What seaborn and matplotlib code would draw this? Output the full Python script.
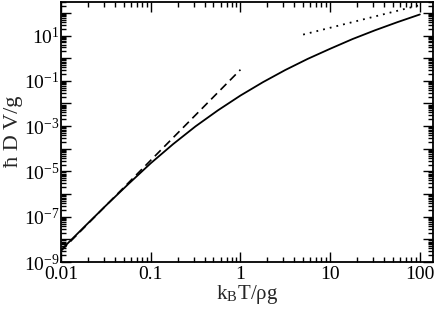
import matplotlib
matplotlib.use("Agg")
import numpy as np
import matplotlib.pyplot as plt
import matplotlib.ticker as mticker
import seaborn as sns

# values (log-log), quarter decade steps
kT = [0.01, 0.0178, 0.0316, 0.0562, 0.1, 0.178, 0.316, 0.562, 1,
      1.78, 3.16, 5.62, 10, 17.8, 31.6, 56.2, 100]
hDV = [3.4e-9, 3.3e-8, 3.1e-7, 2.75e-6, 2.3e-5, 1.62e-4, 9.8e-4, 5.0e-3, 2.24e-2,
       8.7e-2, 0.30, 0.93, 2.6, 7.0, 17.0, 38.9, 85]

# low temperature asymptote (dashed)
low_x = [0.01, 1]
low_y = [3.1e-9, 0.31]

# high temperature asymptote (dotted)
high_x = [5, 100]
high_y = [11, 220]

sns.set_style("ticks")
plt.rcParams["font.family"] = ["Liberation Serif", "DejaVu Serif"]
plt.rcParams["mathtext.fontset"] = "stix"

fig, ax = plt.subplots(figsize=(4.36, 3.09), dpi=100)
fig.subplots_adjust(left=0.14, right=0.993, bottom=0.152, top=0.995)

sns.lineplot(x=kT, y=hDV, color="black", lw=1.3, ax=ax, sort=False)
sns.lineplot(x=low_x, y=low_y, color="black", lw=1.2, ax=ax, sort=False,
             linestyle=(0, (5, 3)))
sns.lineplot(x=high_x, y=high_y, color="black", lw=1.3, ax=ax, sort=False,
             linestyle=(0, (1, 2.8)))

ax.set_xscale("log")
ax.set_yscale("log")
ax.set_xlim(0.01, 140)
ax.set_ylim(1e-9, 10**2.5)

ax.xaxis.set_major_locator(mticker.LogLocator(base=10, numticks=20))
ax.xaxis.set_minor_locator(mticker.LogLocator(base=10, subs=np.arange(2, 10), numticks=20))
ax.xaxis.set_major_formatter(mticker.FuncFormatter(lambda v, p: f"{v:g}"))
ax.xaxis.set_minor_formatter(mticker.NullFormatter())

def ylab(v, p):
    e = int(round(np.log10(v)))
    return f"$\\mathregular{{10^{{{e}}}}}$" if e % 2 else ""

ax.yaxis.set_major_locator(mticker.LogLocator(base=10, numticks=20))
ax.yaxis.set_minor_locator(mticker.LogLocator(base=10, subs=np.arange(2, 10), numticks=20))
ax.yaxis.set_major_formatter(mticker.FuncFormatter(ylab))
ax.yaxis.set_minor_formatter(mticker.NullFormatter())

ax.tick_params(which="both", direction="in", top=True, right=True, width=1,
               labelsize=14, colors="black")
ax.tick_params(which="major", length=7, pad=3)
ax.tick_params(axis="y", which="major", pad=1)
ax.tick_params(which="minor", length=3.5)
for s in ax.spines.values():
    s.set_linewidth(1.3)
    s.set_color("black")

ax.set_xlabel(r"k$_\mathregular{B}$T/ρg", fontsize=15, labelpad=0)
ax.set_ylabel("ħ D V/g", fontsize=16, labelpad=1)

fig.savefig("out.png", dpi=100)
